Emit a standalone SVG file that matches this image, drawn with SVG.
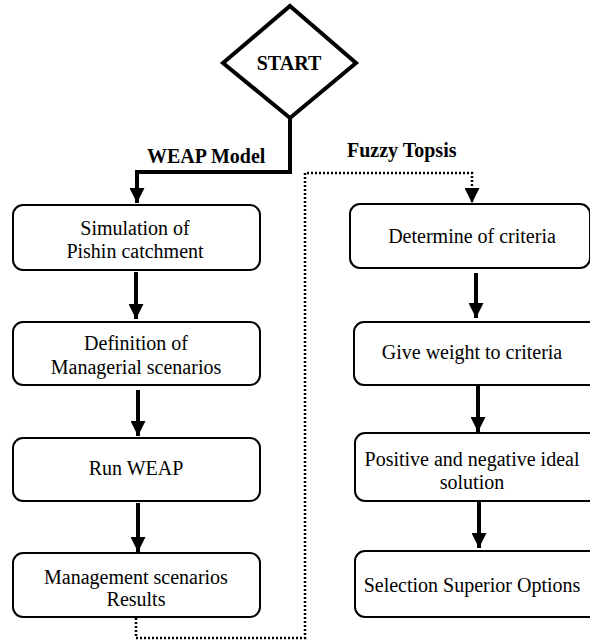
<svg xmlns="http://www.w3.org/2000/svg" width="590" height="644" viewBox="0 0 590 644">
<defs>
<style>
.box{fill:#fff;stroke:#000;stroke-width:2}
.t{font-family:"Liberation Serif","Times New Roman",serif;font-size:20px;fill:#000;text-anchor:middle}
.b{font-family:"Liberation Serif","Times New Roman",serif;font-size:20px;font-weight:bold;fill:#000}
.solid{fill:none;stroke:#000;stroke-width:4}
.dot{fill:none;stroke:#000;stroke-width:2.5;stroke-dasharray:2 2}
</style>
<marker id="ah" viewBox="0 0 10 10" refX="10" refY="5" markerWidth="15" markerHeight="15" markerUnits="userSpaceOnUse" orient="auto">
<path d="M0,0 L10,5 L0,10 z" fill="#000"/>
</marker>
</defs>
<rect width="590" height="644" fill="#fff"/>
<g id="start">
<polygon points="290,6 356,63 290,118 223,63" fill="#fff" stroke="#000" stroke-width="4"/>
<text class="b" x="289" y="70" text-anchor="middle">START</text>
</g>
<g id="n1"><rect class="box" x="13" y="205" width="247" height="65" rx="10"/>
<text class="t" x="135" y="235">Simulation of</text><text class="t" x="135" y="258">Pishin catchment</text></g>
<g id="n2"><rect class="box" x="13" y="322" width="247" height="63" rx="10"/>
<text class="t" x="136" y="350">Definition of</text><text class="t" x="136" y="374">Managerial scenarios</text></g>
<g id="n3"><rect class="box" x="13" y="438" width="247" height="63" rx="10"/>
<text class="t" x="136" y="475">Run WEAP</text></g>
<g id="n4"><rect class="box" x="13" y="553" width="247" height="64" rx="10"/>
<text class="t" x="136" y="584">Management scenarios</text><text class="t" x="136" y="606">Results</text></g>
<g id="m1"><rect class="box" x="350" y="204" width="240" height="64" rx="10"/>
<text class="t" x="472" y="243">Determine of criteria</text></g>
<g id="m2"><rect class="box" x="354" y="322" width="250" height="63" rx="10"/>
<text class="t" x="472" y="359">Give weight to criteria</text></g>
<g id="m3"><rect class="box" x="355" y="433" width="250" height="68" rx="10"/>
<text class="t" x="472" y="466">Positive and negative ideal</text><text class="t" x="472" y="489">solution</text></g>
<g id="m4"><rect class="box" x="355" y="551" width="250" height="66" rx="10"/>
<text class="t" x="472" y="592">Selection Superior Options</text></g>
<g id="connectors">
<path class="solid" d="M290,118 V172 H137 V203" marker-end="url(#ah)"/>
<path class="solid" d="M136,272 V319" marker-end="url(#ah)"/>
<path class="solid" d="M138,390 V436" marker-end="url(#ah)"/>
<path class="solid" d="M138,503 V552" marker-end="url(#ah)"/>
<path class="dot" d="M136,618 V638 H305 V173 H472 V203" marker-end="url(#ah)"/>
<path class="solid" d="M476,273 V318" marker-end="url(#ah)"/>
<path class="solid" d="M478,385 V432" marker-end="url(#ah)"/>
<path class="solid" d="M479,501 V548" marker-end="url(#ah)"/>
<text class="b" x="147" y="163">WEAP Model</text>
<text class="b" x="347" y="157">Fuzzy Topsis</text>
</g>
</svg>
